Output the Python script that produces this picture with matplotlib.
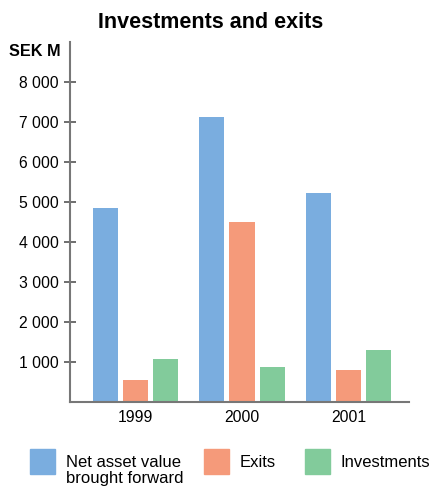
import matplotlib
matplotlib.use("Agg")
import matplotlib.pyplot as plt
from matplotlib.patches import Rectangle
import numpy as np

plt.rcParams['font.family'] = ['Liberation Sans', 'DejaVu Sans']

years = ['1999', '2000', '2001']
series = ['Net asset value\nbrought forward', 'Exits', 'Investments']
net_asset = [4840, 7120, 5220]
exits = [540, 4490, 790]
investments = [1070, 870, 1290]
colors = ['#7aaddf', '#f59a7a', '#82cb9b']
yticks = [1000, 2000, 3000, 4000, 5000, 6000, 7000, 8000]
ytick_labels = ['1 000', '2 000', '3 000', '4 000', '5 000', '6 000', '7 000', '8 000']

fig = plt.figure(figsize=(4.35, 4.88), dpi=100)
ax = fig.add_axes([70/435, 86/488, 339/435, 360/488])

x = np.arange(len(years))
w = 0.235
step = 0.282
for i, vals in enumerate([net_asset, exits, investments]):
    ax.bar(x + (i - 1) * step, vals, width=w, color=colors[i], zorder=2)

ax.set_xlim(-0.615, 2.568)
ax.set_ylim(0, 9000)
ax.set_yticks(yticks)
ax.set_yticklabels(ytick_labels, fontsize=11.3)
ax.set_xticks(x)
ax.set_xticklabels(years, fontsize=11.3)
ax.tick_params(axis='x', length=0, pad=6)
ax.tick_params(axis='y', direction='inout', length=8, width=1.2, color='#555555', pad=4)
for s in ['top', 'right']:
    ax.spines[s].set_visible(False)
for s in ['left', 'bottom']:
    ax.spines[s].set_color('#777777')
    ax.spines[s].set_linewidth(1.5)
    ax.spines[s].set_zorder(3)

fig.text(211/435, 1 - 22/488, 'Investments and exits', ha='center', va='center',
         fontsize=15.5, fontweight='bold')
fig.text(61/435, 1 - 52/488, 'SEK M', ha='right', va='center', fontsize=11.7, fontweight='bold')

# legend drawn by hand so the two-line label hangs below the square
sq_x = [30, 204, 305]
for i, name in enumerate(series):
    fig.add_artist(Rectangle((sq_x[i]/435, 1 - 474/488), 25/435, 25/488,
                             transform=fig.transFigure, color=colors[i]))
    fig.text((sq_x[i] + 36)/435, 1 - 455/488, name, ha='left', va='top',
             fontsize=12, linespacing=1.12)

fig.savefig('out.png', dpi=100)
